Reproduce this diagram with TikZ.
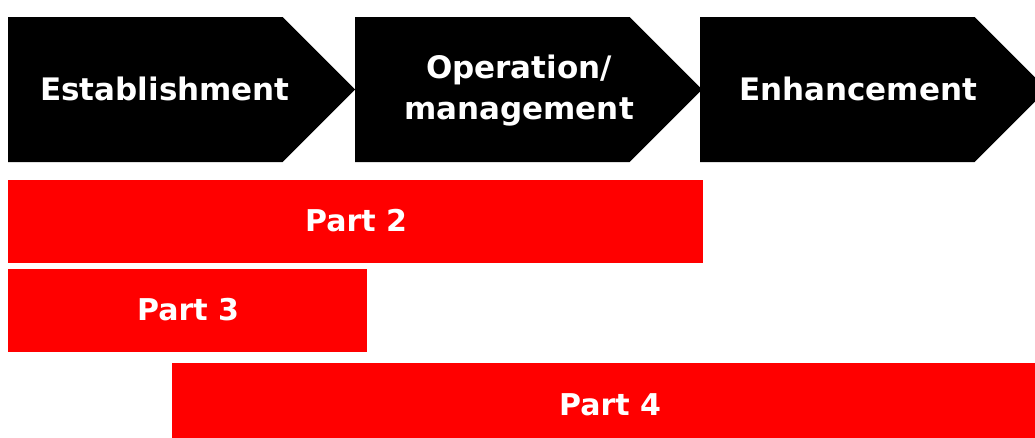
\documentclass[tikz,border=0pt]{standalone}
\usepackage{fontspec}
\setmainfont{DejaVu Sans}
\usetikzlibrary{shapes.symbols}

\begin{document}
\begin{tikzpicture}[x=1pt,y=-1pt,
    phase/.style={signal,signal to=east,signal pointer angle=90,fill=black,anchor=west,
      minimum width=347pt,minimum height=145pt,inner sep=0pt},
    phase text/.style={text=white,align=center,
      font=\fontsize{31}{41}\selectfont\bfseries},
    part/.style={rectangle,fill=red,anchor=north west,minimum height=83pt,inner sep=0pt},
    part text/.style={text=white,font=\fontsize{30}{36}\selectfont\bfseries}]
\path[use as bounding box,clip] (0,0) rectangle (1035,437);

% phases
\node[phase] (est) at (8,89.5) {};
\node[phase] (op)  at (355,89.5) {};
\node[phase] (enh) at (700,89.5) {};
\node[phase text] (est text) at (165,89) {Establishment};
\node[phase text] (op text)  at (519,91) {Operation/\\management};
\node[phase text] (enh text) at (858,89) {Enhancement};

% parts
\node[part,minimum width=695pt] (p2) at (8,180) {};
\node[part,minimum width=359pt] (p3) at (8,269) {};
\node[part,minimum width=880pt] (p4) at (172,363) {};
\node[part text] at (356,221) {Part 2};
\node[part text] at (188,310) {Part 3};
\node[part text] at (610,405) {Part 4};

\end{tikzpicture}
\end{document}
